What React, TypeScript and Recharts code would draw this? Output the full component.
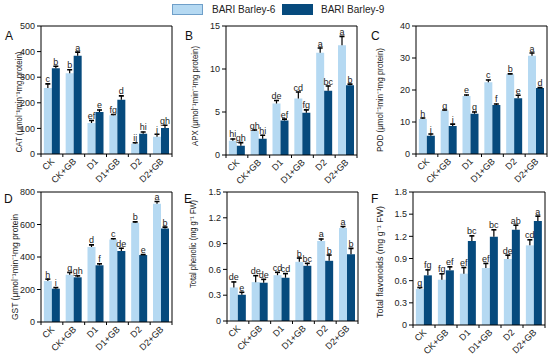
import React from "react"
import { BarChart, Bar, XAxis, YAxis, LabelList, CartesianGrid } from "recharts"

const cats = ["CK", "CK+GB", "D1", "D1+GB", "D2", "D2+GB"]

const catLight = [258, 315, 121, 151, 40, 67]
const catLightErr = [18, 16, 12, 5, 6, 12]
const catDark = [335, 384, 164, 212, 79, 102]
const catDarkErr = [10, 16, 10, 17, 9, 12]
const catLightSig = ["c", "b", "ef", "fg", "ij", "j"]
const catDarkSig = ["b", "a", "e", "d", "hi", "gh"]

const apxLight = [1.65, 2.8, 6.0, 6.58, 11.9, 12.77]
const apxLightErr = [0.27, 0.16, 0.4, 0.8, 0.6, 1.08]
const apxDark = [1.08, 1.88, 4.0, 4.92, 7.46, 8.1]
const apxDarkErr = [0.42, 0.47, 0.23, 0.38, 0.62, 0.2]
const apxLightSig = ["hi", "gh", "de", "cd", "a", "a"]
const apxDarkSig = ["gh", "hi", "ef", "fg", "bc", "b"]

const podLight = [10.97, 13.6, 18.1, 22.45, 24.96, 30.7]
const podLightErr = [0.43, 0.3, 0.5, 0.85, 0.24, 1.0]
const podDark = [5.74, 8.77, 12.6, 15.35, 17.4, 20.6]
const podDarkErr = [0.66, 0.73, 0.7, 0.45, 1.1, 0.3]
const podLightSig = ["h", "g", "e", "c", "b", "a"]
const podDarkSig = ["j", "i", "g", "f", "e", "d"]

const gstLight = [252, 291, 462, 507, 611, 728]
const gstLightErr = [15, 17, 16, 8, 8, 17]
const gstDark = [205, 275, 349, 437, 412, 576]
const gstDarkErr = [10, 12, 12, 20, 6, 11]
const gstLightSig = ["h", "g", "d", "c", "b", "a"]
const gstDarkSig = ["i", "gh", "f", "de", "e", "b"]

const pheLight = [0.39, 0.452, 0.533, 0.688, 0.93, 1.082]
const pheLightErr = [0.07, 0.081, 0.039, 0.05, 0.03, 0.023]
const pheDark = [0.305, 0.445, 0.503, 0.642, 0.7, 0.777]
const pheDarkErr = [0.035, 0.045, 0.054, 0.034, 0.073, 0.073]
const pheLightSig = ["de", "de", "cd", "b", "a", "a"]
const pheDarkSig = ["e", "de", "cd", "bc", "b", "b"]

const flaLight = [0.487, 0.613, 0.695, 0.771, 0.893, 1.078]
const flaLightErr = [0.027, 0.087, 0.09, 0.069, 0.059, 0.082]
const flaDark = [0.672, 0.74, 1.137, 1.195, 1.29, 1.407]
const flaDarkErr = [0.081, 0.054, 0.076, 0.1, 0.068, 0.073]
const flaLightSig = ["g", "fg", "ef", "ef", "de", "cd"]
const flaDarkSig = ["fg", "ef", "bc", "bc", "ab", "a"]

const LIGHT = "#b5d9f2"
const DARK = "#064a7d"
const FONT = "'Liberation Sans', Arial, sans-serif"

const buildRows = (
  l: number[], le: number[], d: number[], de: number[], ls: string[], ds: string[]
) => cats.map((c, i) => ({ cat: c, l: l[i], le: le[i], d: d[i], de: de[i], ls: ls[i], ds: ds[i] }))

// error bar drawn only upwards (T shape) on top of the stacked invisible segment
const ErrShape = (p: any) => {
  const { x, y, width, height } = p
  if (x == null || height == null) return null
  const cx = x + width / 2
  return (
    <g>
      <line x1={cx} x2={cx} y1={y} y2={y + height} stroke="#000" strokeWidth={1.2} />
      <line x1={cx - 2.5} x2={cx + 2.5} y1={y + 0.5} y2={y + 0.5} stroke="#000" strokeWidth={1.6} />
    </g>
  )
}

const CatTick = (p: any) => {
  const { x, y, payload, width, index } = p
  const half = width / cats.length / 2
  const tx = x + 3
  const ty = y + 8
  return (
    <g>
      <line x1={x - half} x2={x - half} y1={y} y2={y + 3} stroke="#000" />
      {index === cats.length - 1 && (
        <line x1={x + half} x2={x + half} y1={y} y2={y + 3} stroke="#000" />
      )}
      <text x={tx} y={ty} textAnchor="end" fontSize={9} fill="#222" fontFamily={FONT}
        transform={`rotate(-45 ${tx} ${ty})`}>
        {payload.value}
      </text>
    </g>
  )
}

type PanelProps = {
  box: { l: number; t: number; r: number; b: number }
  rows: any[]
  max: number
  ticks: number[]
}

const YW = 42
const MT = 10
const XH = 36

function Panel({ box, rows, max, ticks }: PanelProps) {
  const w = box.r - box.l + YW + 3
  const h = box.b - box.t + MT + XH
  return (
    <div style={{ position: "absolute", left: box.l - YW, top: box.t - MT }}>
      <BarChart width={w} height={h} data={rows} margin={{ top: MT, right: 3, left: 0, bottom: 0 }}
        barCategoryGap="13%" barGap={0}>
        <CartesianGrid stroke="#000" strokeWidth={1}
          horizontalCoordinatesGenerator={({ offset }: any) => [offset.top]}
          verticalCoordinatesGenerator={({ offset }: any) => [offset.left + offset.width]} />
        <XAxis dataKey="cat" height={XH} tick={<CatTick />} tickLine={false} tickSize={0} tickMargin={0}
          axisLine={{ stroke: "#000" }} interval={0} />
        <YAxis domain={[0, max]} ticks={ticks} allowDataOverflow width={YW}
          tick={{ fontSize: 9, fill: "#222", fontFamily: FONT }} tickSize={4}
          axisLine={{ stroke: "#000" }} tickLine={{ stroke: "#000" }} />
        <Bar dataKey="l" stackId="l" fill={LIGHT} isAnimationActive={false} />
        <Bar dataKey="le" stackId="l" shape={<ErrShape />} isAnimationActive={false}>
          <LabelList dataKey="ls" position="top" offset={1} fontSize={9} fill="#222" fontFamily={FONT} />
        </Bar>
        <Bar dataKey="d" stackId="d" fill={DARK} isAnimationActive={false} />
        <Bar dataKey="de" stackId="d" shape={<ErrShape />} isAnimationActive={false}>
          <LabelList dataKey="ds" position="top" offset={1} fontSize={9} fill="#222" fontFamily={FONT} />
        </Bar>
      </BarChart>
    </div>
  )
}

const panels = [
  { key: "A", box: { l: 41, t: 26, r: 172, b: 154 }, max: 500, ticks: [0, 100, 200, 300, 400, 500],
    rows: buildRows(catLight, catLightErr, catDark, catDarkErr, catLightSig, catDarkSig),
    title: "CAT (μmol⁻¹min⁻¹mg protein)", tx: 19, ty: 102, tl: 101, lx: 5, ly: 40 },
  { key: "B", box: { l: 226, t: 26, r: 357, b: 155 }, max: 15, ticks: [0, 5, 10, 15],
    rows: buildRows(apxLight, apxLightErr, apxDark, apxDarkErr, apxLightSig, apxDarkSig),
    title: "APX (μmol⁻¹min⁻¹mg protein)", tx: 195, ty: 96, tl: 100, lx: 185, ly: 40 },
  { key: "C", box: { l: 416, t: 26, r: 547, b: 154 }, max: 40, ticks: [0, 10, 20, 30, 40],
    rows: buildRows(podLight, podLightErr, podDark, podDarkErr, podLightSig, podDarkSig),
    title: "POD (μmol⁻¹min⁻¹mg protein)", tx: 380, ty: 100, tl: 104, lx: 371, ly: 40 },
  { key: "D", box: { l: 41, t: 192, r: 172, b: 322 }, max: 800, ticks: [0, 200, 400, 600, 800],
    rows: buildRows(gstLight, gstLightErr, gstDark, gstDarkErr, gstLightSig, gstDarkSig),
    title: "GST (μmol⁻¹min⁻¹mg protein", tx: 15, ty: 267, tl: 106, lx: 4, ly: 203 },
  { key: "E", box: { l: 227, t: 192, r: 358, b: 321 }, max: 1.5, ticks: [0, 0.3, 0.6, 0.9, 1.2, 1.5],
    rows: buildRows(pheLight, pheLightErr, pheDark, pheDarkErr, pheLightSig, pheDarkSig),
    title: "Total phenolic (mg g⁻¹ FW)", tx: 193, ty: 244, tl: 88, lx: 184, ly: 203 },
  { key: "F", box: { l: 413, t: 192, r: 545, b: 325 }, max: 1.8, ticks: [0, 0.3, 0.6, 0.9, 1.2, 1.5, 1.8],
    rows: buildRows(flaLight, flaLightErr, flaDark, flaDarkErr, flaLightSig, flaDarkSig),
    title: "Total flavonoids (mg g⁻¹ FW)", tx: 380, ty: 262, tl: 112, lx: 371, ly: 203 },
]

export default function App() {
  return (
    <div style={{ position: "absolute", left: 0, top: 0, width: 550, height: 355, background: "#fff", overflow: "hidden", fontFamily: FONT }}>
      {panels.map((p) => (
        <Panel key={p.key} box={p.box} rows={p.rows} max={p.max} ticks={p.ticks} />
      ))}
      <svg width={550} height={355} style={{ position: "absolute", left: 0, top: 0, pointerEvents: "none" }}>
        <rect x={172.5} y={4.5} width={30} height={10} fill={LIGHT} stroke="#6f9fc9" />
        <text x={212} y={13} fontSize={10} fill="#222" fontFamily={FONT}>BARI Barley-6</text>
        <rect x={282.5} y={4.5} width={30} height={10} fill={DARK} stroke={DARK} />
        <text x={321} y={13} fontSize={10} fill="#222" fontFamily={FONT}>BARI Barley-9</text>
        {panels.map((p) => (
          <g key={p.key}>
            <text x={p.lx} y={p.ly} fontSize={12} fill="#111" fontFamily={FONT}>{p.key}</text>
            <text x={p.tx} y={p.ty} fontSize={8.5} fill="#222" fontFamily={FONT} textAnchor="middle"
              dominantBaseline="central" textLength={p.tl} lengthAdjust="spacingAndGlyphs"
              transform={`rotate(-90 ${p.tx} ${p.ty})`}>
              {p.title}
            </text>
          </g>
        ))}
      </svg>
    </div>
  )
}
